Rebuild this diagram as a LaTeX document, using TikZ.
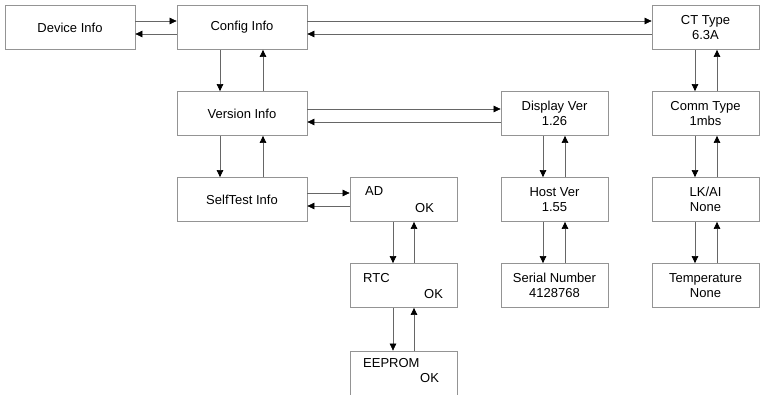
\documentclass[tikz,border=0pt]{standalone}
\usepackage{fontspec}
\setmainfont{Liberation Sans}
\usetikzlibrary{arrows.meta}

\definecolor{menuline}{rgb}{0.58,0.58,0.58}
\definecolor{menuwire}{rgb}{0.40,0.40,0.40}

\tikzset{
  menubox/.style={draw=menuline,line width=0.8pt,fill=white,minimum width=#1,
    minimum height=44pt,inner sep=0pt,align=center,
    font=\fontsize{13}{15.5}\selectfont},
  menubox/.default=130pt,
  link/.style={draw=menuwire,line width=0.6pt,
    -{Triangle[length=7pt,width=6.5pt,color=black]}},
  flag/.style={anchor=west,inner sep=0pt,font=\fontsize{13}{15.5}\selectfont}
}

\begin{document}
\begin{tikzpicture}[x=1pt,y=-1pt]
\useasboundingbox (0,0) rectangle (761,394);
\clip (0,0) rectangle (761,394);
% menu pages
\node[menubox] (dev) at (70,27.5) {Device Info};
\node[menubox] (cfg) at (242,27.5) {Config Info};
\node[menubox=107pt] (ct) at (705.5,27.5) {CT Type\\6.3A};
\node[menubox] (ver) at (242,113.5) {Version Info};
\node[menubox=107pt] (disp) at (554.5,113.5) {Display Ver\\1.26};
\node[menubox=107pt] (comm) at (705.5,113.5) {Comm Type\\1mbs};
\node[menubox] (self) at (242,199.5) {SelfTest Info};
\node[menubox=107pt] (ad) at (403.5,199.5) {};
\node[menubox=107pt] (host) at (554.5,199.5) {Host Ver\\1.55};
\node[menubox=107pt] (lk) at (705.5,199.5) {LK/AI\\None};
\node[menubox=107pt] (rtc) at (403.5,285.5) {};
\node[menubox=107pt] (serial) at (554.5,285.5) {Serial Number\\4128768};
\node[menubox=107pt] (temp) at (705.5,285.5) {Temperature\\None};
\node[menubox=107pt] (eeprom) at (403.5,373) {};
% self test results
\node[flag] (adname) at (365,191) {AD};
\node[flag] (adok) at (415,208) {OK};
\node[flag] (rtcname) at (363,278) {RTC};
\node[flag] (rtcok) at (424,294) {OK};
\node[flag] (eepromname) at (363,363) {EEPROM};
\node[flag] (eepromok) at (420,378) {OK};
% horizontal links
\draw[link] ([yshift=6.5pt]dev.east) -- ([yshift=6.5pt]cfg.west);
\draw[link] ([yshift=-6.5pt]cfg.west) -- ([yshift=-6.5pt]dev.east);
\draw[link] ([yshift=6.5pt]cfg.east) -- ([yshift=6.5pt]ct.west);
\draw[link] ([yshift=-6.5pt]ct.west) -- ([yshift=-6.5pt]cfg.east);
\draw[link] ([yshift=4.5pt]ver.east) -- ([yshift=4.5pt]disp.west);
\draw[link] ([yshift=-8.5pt]disp.west) -- ([yshift=-8.5pt]ver.east);
\draw[link] ([yshift=6.5pt]self.east) -- ([yshift=6.5pt]ad.west);
\draw[link] ([yshift=-6.5pt]ad.west) -- ([yshift=-6.5pt]self.east);
% vertical links
\draw[link] ([xshift=-22pt]cfg.south) -- ([xshift=-22pt]ver.north);
\draw[link] ([xshift=21pt]ver.north) -- ([xshift=21pt]cfg.south);
\draw[link] ([xshift=-22pt]ver.south) -- ([xshift=-22pt]self.north);
\draw[link] ([xshift=21pt]self.north) -- ([xshift=21pt]ver.south);
\draw[link] ([xshift=-10.5pt]ad.south) -- ([xshift=-10.5pt]rtc.north);
\draw[link] ([xshift=10.5pt]rtc.north) -- ([xshift=10.5pt]ad.south);
\draw[link] ([xshift=-10.5pt]rtc.south) -- ([xshift=-10.5pt]eeprom.north);
\draw[link] ([xshift=10.5pt]eeprom.north) -- ([xshift=10.5pt]rtc.south);
\draw[link] ([xshift=-11.5pt]disp.south) -- ([xshift=-11.5pt]host.north);
\draw[link] ([xshift=10.5pt]host.north) -- ([xshift=10.5pt]disp.south);
\draw[link] ([xshift=-11.5pt]host.south) -- ([xshift=-11.5pt]serial.north);
\draw[link] ([xshift=10.5pt]serial.north) -- ([xshift=10.5pt]host.south);
\draw[link] ([xshift=-10.5pt]ct.south) -- ([xshift=-10.5pt]comm.north);
\draw[link] ([xshift=11.5pt]comm.north) -- ([xshift=11.5pt]ct.south);
\draw[link] ([xshift=-10.5pt]comm.south) -- ([xshift=-10.5pt]lk.north);
\draw[link] ([xshift=11.5pt]lk.north) -- ([xshift=11.5pt]comm.south);
\draw[link] ([xshift=-10.5pt]lk.south) -- ([xshift=-10.5pt]temp.north);
\draw[link] ([xshift=11.5pt]temp.north) -- ([xshift=11.5pt]lk.south);
\end{tikzpicture}
\end{document}
